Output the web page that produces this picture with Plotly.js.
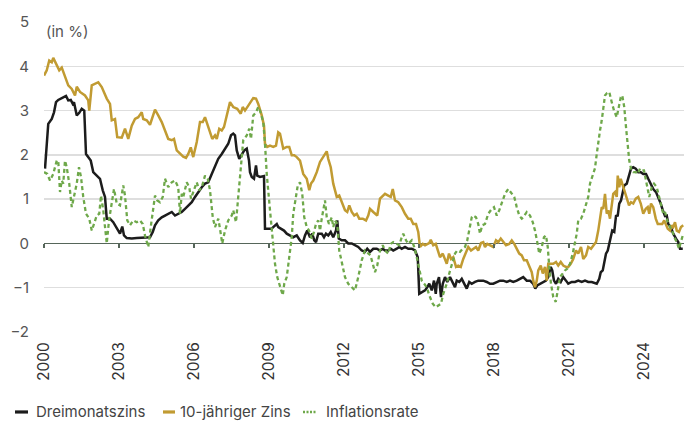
<!DOCTYPE html>
<html>
<head>
<meta charset="utf-8">
<script src="https://cdn.plot.ly/plotly-3.0.1.min.js"></script>
<style>
  html, body { margin: 0; padding: 0; background: #ffffff; }
  #chart { width: 692px; height: 423px; }
</style>
</head>
<body>
<div id="chart"></div>
<script>
// ---- Data (decimal years, values in %) ----
const dreiX = [2000.04,2000.17,2000.31,2000.40,2000.48,2000.57,2000.77,2000.88,2000.97,2001.07,2001.15,2001.20,2001.31,2001.41,2001.51,2001.61,2001.68,2001.77,2001.87,2001.97,2002.11,2002.24,2002.35,2002.44,2002.51,2002.64,2002.77,2002.91,2003.04,2003.13,2003.20,2003.31,2003.51,2003.71,2003.91,2004.11,2004.24,2004.35,2004.44,2004.57,2004.71,2004.84,2004.97,2005.11,2005.24,2005.37,2005.51,2005.64,2005.77,2005.91,2006.04,2006.17,2006.31,2006.44,2006.57,2006.71,2006.84,2006.97,2007.11,2007.24,2007.37,2007.48,2007.57,2007.64,2007.71,2007.81,2007.91,2008.01,2008.11,2008.20,2008.24,2008.31,2008.40,2008.48,2008.53,2008.64,2008.80,2008.84,2008.97,2009.11,2009.17,2009.31,2009.37,2009.51,2009.60,2009.71,2009.84,2009.97,2010.11,2010.24,2010.35,2010.44,2010.53,2010.64,2010.73,2010.81,2010.88,2010.97,2011.11,2011.20,2011.28,2011.37,2011.47,2011.57,2011.68,2011.73,2011.79,2011.91,2012.04,2012.17,2012.31,2012.44,2012.57,2012.71,2012.84,2012.93,2013.04,2013.17,2013.31,2013.44,2013.55,2013.64,2013.77,2013.87,2013.97,2014.11,2014.21,2014.31,2014.44,2014.57,2014.71,2014.84,2014.95,2015.01,2015.11,2015.24,2015.33,2015.41,2015.51,2015.60,2015.67,2015.71,2015.80,2015.88,2015.95,2016.04,2016.13,2016.24,2016.31,2016.44,2016.51,2016.61,2016.71,2016.81,2016.91,2017.01,2017.11,2017.24,2017.37,2017.51,2017.57,2017.71,2017.84,2017.97,2018.11,2018.24,2018.37,2018.51,2018.64,2018.77,2018.91,2019.04,2019.17,2019.31,2019.44,2019.57,2019.65,2019.73,2019.84,2019.97,2020.08,2020.17,2020.27,2020.33,2020.40,2020.48,2020.57,2020.67,2020.77,2020.88,2020.97,2021.11,2021.24,2021.37,2021.51,2021.64,2021.77,2021.91,2022.00,2022.11,2022.21,2022.27,2022.35,2022.41,2022.48,2022.55,2022.61,2022.68,2022.73,2022.81,2022.88,2022.95,2023.01,2023.08,2023.15,2023.21,2023.31,2023.40,2023.48,2023.57,2023.67,2023.77,2023.87,2023.97,2024.08,2024.17,2024.28,2024.37,2024.48,2024.57,2024.67,2024.75,2024.84,2024.91,2024.97,2025.07,2025.17,2025.28,2025.37,2025.44,2025.55];
const dreiY = [1.69,2.70,2.81,2.96,3.19,3.24,3.30,3.33,3.23,3.24,3.15,3.19,2.89,2.95,3.04,3.00,2.02,1.95,1.87,1.61,1.54,1.46,1.20,1.05,0.56,0.56,0.48,0.33,0.22,0.38,0.18,0.12,0.11,0.12,0.13,0.14,0.14,0.26,0.41,0.52,0.59,0.63,0.67,0.71,0.63,0.67,0.71,0.78,0.86,0.93,1.05,1.16,1.27,1.35,1.38,1.57,1.76,1.91,2.02,2.14,2.25,2.44,2.48,2.44,2.10,1.91,2.02,2.10,2.14,1.87,1.61,1.50,1.46,1.76,1.53,1.50,1.52,0.33,0.33,0.33,0.37,0.44,0.37,0.33,0.29,0.22,0.18,0.14,0.18,0.07,0.01,0.18,0.29,0.14,0.22,0.07,0.03,0.22,0.22,0.14,0.22,0.18,0.26,0.14,0.29,0.52,0.11,0.07,0.07,0.00,0.00,-0.04,-0.08,-0.16,-0.19,-0.12,-0.19,-0.12,-0.12,-0.16,-0.12,-0.16,-0.16,-0.12,-0.16,-0.12,-0.08,-0.12,-0.08,-0.12,-0.12,-0.16,-0.31,-1.14,-1.10,-1.06,-0.99,-0.91,-1.06,-0.84,-1.14,-0.91,-0.76,-1.21,-0.91,-0.76,-0.87,-0.76,-0.84,-0.99,-0.84,-0.87,-0.80,-0.91,-1.02,-0.87,-0.91,-0.87,-0.84,-0.84,-0.84,-0.87,-0.91,-0.91,-0.87,-0.84,-0.84,-0.87,-0.84,-0.87,-0.84,-0.80,-0.76,-0.84,-0.84,-0.91,-1.02,-0.95,-0.91,-0.87,-0.84,-0.76,-0.53,-0.61,-0.84,-0.91,-0.80,-0.87,-0.76,-0.84,-0.91,-0.87,-0.87,-0.84,-0.87,-0.84,-0.87,-0.87,-0.89,-0.91,-0.80,-0.65,-0.61,-0.46,-0.23,-0.16,-0.01,0.14,0.29,0.26,0.62,0.63,0.90,0.97,1.12,1.31,1.35,1.53,1.69,1.72,1.69,1.61,1.61,1.57,1.57,1.46,1.35,1.23,1.16,1.05,0.90,0.75,0.62,0.63,0.44,0.37,0.22,0.11,0.03,-0.12,-0.12];

const zehnX = [2000.00,2000.11,2000.21,2000.31,2000.37,2000.51,2000.61,2000.71,2000.84,2000.97,2001.11,2001.24,2001.31,2001.44,2001.64,2001.77,2001.81,2001.91,2002.17,2002.31,2002.51,2002.64,2002.71,2002.84,2002.93,2003.11,2003.24,2003.37,2003.51,2003.64,2003.77,2003.91,2003.97,2004.11,2004.24,2004.44,2004.57,2004.71,2004.84,2004.97,2005.11,2005.20,2005.31,2005.44,2005.57,2005.68,2005.77,2005.87,2005.97,2006.11,2006.24,2006.35,2006.44,2006.53,2006.64,2006.73,2006.84,2006.91,2007.01,2007.11,2007.20,2007.31,2007.44,2007.57,2007.73,2007.87,2007.95,2008.04,2008.13,2008.24,2008.37,2008.48,2008.57,2008.71,2008.80,2008.84,2008.93,2009.04,2009.17,2009.28,2009.37,2009.44,2009.51,2009.57,2009.71,2009.81,2009.91,2010.01,2010.11,2010.24,2010.37,2010.51,2010.61,2010.68,2010.77,2010.91,2011.04,2011.17,2011.31,2011.37,2011.47,2011.57,2011.71,2011.81,2011.91,2012.04,2012.13,2012.21,2012.31,2012.41,2012.51,2012.61,2012.75,2012.88,2012.97,2013.04,2013.17,2013.24,2013.33,2013.44,2013.55,2013.64,2013.77,2013.87,2013.95,2014.04,2014.17,2014.31,2014.44,2014.57,2014.67,2014.77,2014.88,2014.97,2015.04,2015.15,2015.24,2015.33,2015.41,2015.47,2015.57,2015.67,2015.75,2015.84,2015.95,2016.04,2016.11,2016.20,2016.28,2016.37,2016.48,2016.57,2016.67,2016.77,2016.88,2016.97,2017.08,2017.17,2017.28,2017.37,2017.48,2017.57,2017.64,2017.73,2017.84,2017.97,2018.08,2018.17,2018.27,2018.37,2018.48,2018.61,2018.71,2018.81,2018.91,2019.01,2019.11,2019.20,2019.31,2019.41,2019.51,2019.57,2019.64,2019.71,2019.77,2019.87,2019.95,2020.04,2020.11,2020.17,2020.27,2020.37,2020.48,2020.57,2020.67,2020.77,2020.88,2020.97,2021.07,2021.17,2021.28,2021.37,2021.48,2021.57,2021.68,2021.77,2021.88,2021.97,2022.08,2022.17,2022.24,2022.31,2022.37,2022.44,2022.51,2022.57,2022.64,2022.71,2022.77,2022.84,2022.91,2022.95,2023.01,2023.07,2023.13,2023.21,2023.31,2023.40,2023.48,2023.57,2023.67,2023.77,2023.87,2023.97,2024.07,2024.15,2024.21,2024.28,2024.37,2024.47,2024.55,2024.64,2024.73,2024.81,2024.88,2024.95,2025.04,2025.11,2025.17,2025.24,2025.31,2025.40,2025.48,2025.57];
const zehnY = [3.79,3.91,4.13,4.09,4.19,4.02,3.91,3.97,3.76,3.57,3.49,3.34,3.54,3.42,3.34,3.23,3.00,3.57,3.64,3.53,3.27,3.15,2.78,2.81,2.40,2.39,2.59,2.36,2.66,2.81,2.85,2.96,2.81,2.78,2.68,3.02,2.89,2.74,2.55,2.36,2.33,2.36,2.10,2.02,1.96,1.93,2.02,2.17,1.95,2.29,2.74,2.74,2.85,2.70,2.51,2.36,2.44,2.36,2.59,2.55,2.63,2.89,3.19,3.08,3.04,2.93,3.08,3.00,3.08,3.15,3.28,3.27,3.15,2.89,2.66,2.25,2.18,2.21,2.18,2.21,2.51,2.48,2.33,2.14,2.18,2.18,1.99,1.99,1.95,1.87,1.57,1.46,1.20,1.35,1.42,1.61,1.84,1.95,2.08,1.91,1.72,1.35,1.05,1.08,0.93,0.75,0.71,0.86,0.71,0.63,0.67,0.56,0.56,0.52,0.63,0.78,0.71,0.67,0.63,1.01,1.08,1.12,1.08,1.05,1.23,0.97,0.93,0.82,0.67,0.56,0.56,0.44,0.44,0.26,-0.08,-0.01,-0.04,-0.01,0.01,0.08,-0.04,-0.01,-0.16,-0.31,-0.23,-0.38,-0.46,-0.23,-0.35,-0.31,-0.53,-0.50,-0.53,-0.35,-0.19,-0.08,-0.16,-0.12,-0.08,-0.16,0.01,0.03,-0.08,-0.01,-0.04,-0.08,0.07,0.03,0.11,0.03,-0.04,-0.01,0.07,-0.01,-0.12,-0.23,-0.27,-0.38,-0.38,-0.53,-0.65,-0.84,-0.99,-0.84,-0.61,-0.50,-0.68,-0.53,-0.84,-0.46,-0.46,-0.46,-0.42,-0.50,-0.42,-0.50,-0.53,-0.53,-0.46,-0.35,-0.16,-0.23,-0.08,-0.35,-0.27,-0.08,-0.12,-0.04,0.03,0.29,0.62,0.82,0.78,1.12,0.67,0.75,0.56,0.93,1.12,1.16,1.05,1.53,1.27,1.46,1.35,1.23,1.01,0.86,0.93,0.90,1.01,1.05,0.90,0.67,0.78,0.82,0.67,0.90,0.82,0.56,0.44,0.44,0.44,0.52,0.41,0.33,0.29,0.41,0.37,0.48,0.29,0.26,0.37,0.41];

const inflX = [2000.00,2000.13,2000.24,2000.37,2000.51,2000.57,2000.64,2000.71,2000.77,2000.84,2000.91,2001.01,2001.11,2001.20,2001.31,2001.40,2001.48,2001.57,2001.68,2001.81,2001.91,2002.00,2002.11,2002.21,2002.28,2002.37,2002.44,2002.51,2002.60,2002.71,2002.80,2002.91,2003.04,2003.17,2003.24,2003.33,2003.44,2003.57,2003.71,2003.84,2003.95,2004.04,2004.17,2004.27,2004.37,2004.44,2004.53,2004.64,2004.75,2004.84,2004.97,2005.11,2005.24,2005.37,2005.44,2005.51,2005.57,2005.71,2005.81,2005.88,2005.97,2006.11,2006.21,2006.31,2006.44,2006.55,2006.64,2006.75,2006.84,2006.97,2007.04,2007.13,2007.24,2007.37,2007.51,2007.57,2007.68,2007.77,2007.87,2007.97,2008.11,2008.21,2008.28,2008.37,2008.48,2008.57,2008.64,2008.77,2008.84,2008.91,2009.04,2009.15,2009.24,2009.33,2009.44,2009.55,2009.61,2009.71,2009.81,2009.91,2009.97,2010.07,2010.15,2010.24,2010.33,2010.41,2010.51,2010.60,2010.71,2010.80,2010.88,2010.97,2011.04,2011.11,2011.17,2011.24,2011.31,2011.40,2011.51,2011.57,2011.64,2011.73,2011.81,2011.91,2012.04,2012.17,2012.31,2012.44,2012.57,2012.71,2012.84,2012.97,2013.06,2013.15,2013.24,2013.33,2013.44,2013.55,2013.64,2013.77,2013.87,2013.97,2014.11,2014.21,2014.31,2014.37,2014.48,2014.57,2014.71,2014.81,2014.91,2015.01,2015.11,2015.21,2015.31,2015.41,2015.55,2015.67,2015.77,2015.88,2015.97,2016.11,2016.21,2016.31,2016.44,2016.53,2016.64,2016.75,2016.84,2016.93,2017.01,2017.11,2017.17,2017.28,2017.37,2017.44,2017.53,2017.64,2017.77,2017.91,2018.00,2018.11,2018.21,2018.31,2018.44,2018.57,2018.71,2018.81,2018.91,2019.01,2019.11,2019.17,2019.31,2019.44,2019.55,2019.64,2019.73,2019.81,2019.91,2020.00,2020.08,2020.15,2020.21,2020.28,2020.37,2020.47,2020.55,2020.64,2020.75,2020.84,2020.93,2021.04,2021.15,2021.24,2021.31,2021.37,2021.48,2021.57,2021.68,2021.77,2021.84,2021.95,2022.04,2022.11,2022.17,2022.24,2022.31,2022.37,2022.44,2022.51,2022.61,2022.71,2022.80,2022.91,2023.00,2023.07,2023.13,2023.21,2023.28,2023.35,2023.41,2023.48,2023.57,2023.67,2023.75,2023.84,2023.93,2024.00,2024.07,2024.15,2024.21,2024.31,2024.40,2024.51,2024.60,2024.68,2024.77,2024.84,2024.93,2025.04,2025.13,2025.21,2025.31,2025.40,2025.48,2025.57];
const inflY = [1.61,1.57,1.42,1.57,1.87,1.87,1.16,1.42,1.35,1.87,1.72,1.35,0.82,1.05,1.35,1.72,1.50,1.05,0.67,0.56,0.29,0.44,0.63,0.67,1.08,0.75,0.33,0.00,0.52,0.93,1.23,0.90,0.86,1.31,1.08,0.52,0.41,0.52,0.48,0.52,0.44,0.18,-0.08,0.37,0.82,1.08,0.97,0.93,1.05,1.46,1.27,1.38,1.42,1.27,0.67,1.12,1.05,1.38,1.27,1.01,1.16,1.38,1.20,1.27,1.53,1.46,1.20,0.59,0.37,0.56,0.33,0.00,0.29,0.52,0.63,0.75,0.48,1.05,1.72,2.33,2.44,2.59,2.36,2.89,2.96,3.08,3.00,2.74,2.25,1.57,0.75,0.14,-0.46,-0.76,-0.95,-1.17,-0.91,-0.76,-0.31,0.14,0.67,1.05,1.31,1.38,1.12,0.59,0.37,0.29,0.11,0.26,0.44,0.52,0.29,0.56,0.75,0.97,0.59,0.44,0.59,0.37,0.52,0.44,-0.16,-0.46,-0.76,-0.91,-0.99,-1.06,-0.76,-0.38,-0.16,-0.23,-0.27,-0.46,-0.65,-0.50,-0.16,-0.04,-0.16,-0.23,-0.01,0.03,-0.01,-0.04,0.14,0.22,0.07,-0.01,0.07,-0.08,-0.31,-0.61,-0.84,-0.91,-0.99,-1.17,-1.36,-1.44,-1.40,-1.36,-1.14,-0.91,-0.68,-0.46,-0.23,-0.16,-0.19,-0.12,-0.08,0.07,0.29,0.59,0.63,0.59,0.44,0.22,0.41,0.44,0.67,0.78,0.82,0.63,0.75,0.90,1.12,1.23,1.12,1.05,0.82,0.63,0.56,0.59,0.71,0.63,0.48,0.29,0.03,-0.23,-0.08,0.14,0.18,-0.08,-0.53,-0.91,-1.21,-1.32,-1.06,-0.76,-0.68,-0.61,-0.57,-0.46,-0.23,-0.01,0.22,0.52,0.56,0.67,0.90,1.05,1.35,1.57,1.70,2.02,2.33,2.55,2.78,3.04,3.34,3.39,3.42,3.19,3.00,2.85,3.08,3.30,3.34,3.08,2.63,2.25,1.87,1.69,1.61,1.61,1.57,1.69,1.65,1.65,1.46,1.27,1.05,1.27,1.35,1.27,1.05,0.82,0.67,0.71,0.52,0.37,0.29,0.14,0.03,-0.12,0.07,0.22];

const seriesNames = ["Dreimonatszins", "10-jähriger Zins", "Inflationsrate"];
const tickYears = [2000, 2003, 2006, 2009, 2012, 2015, 2018, 2021, 2024];
const tickLabels = ["2000", "2003", "2006", "2009", "2012", "2015", "2018", "2021", "2024"];
const yTicks = [-2, -1, 0, 1, 2, 3, 4, 5];

const FONT = "Inter, 'Open Sans', sans-serif";
const colors = ["#1c1c1c", "#c19b32", "#6ea84a"];

const traces = [
  { x: dreiX, y: dreiY, name: seriesNames[0], type: "scatter", mode: "lines",
    line: { color: colors[0], width: 2.5 } },
  { x: zehnX, y: zehnY, name: seriesNames[1], type: "scatter", mode: "lines",
    line: { color: colors[1], width: 2.5 } },
  { x: inflX, y: inflY, name: seriesNames[2], type: "scatter", mode: "lines",
    line: { color: colors[2], width: 2.3, dash: "4px,3px" } },
  // carrier for the tick marks drawn on the zero line
  { x: [], y: [], xaxis: "x2", yaxis: "y", showlegend: false, hoverinfo: "skip",
    type: "scatter", mode: "lines" }
];

// custom legend (short line keys) below the plot, in paper coordinates
const legendLineX = [[-0.0453, -0.025], [0.1859, 0.2047], [0.4047, 0.425]];
const legendTextX = [-0.0156, 0.2094, 0.4375];
const legendY = -0.258;
const legendShapes = seriesNames.map((n, i) => ({
  type: "line", xref: "paper", yref: "paper",
  x0: legendLineX[i][0], x1: legendLineX[i][1], y0: legendY, y1: legendY,
  line: { color: colors[i], width: i === 2 ? 2.5 : 3.2, dash: i === 2 ? "2px,1.5px" : "solid" }
}));
const legendTexts = seriesNames.map((n, i) => ({
  xref: "paper", yref: "paper", x: legendTextX[i], y: legendY,
  xanchor: "left", yanchor: "middle", showarrow: false, text: n,
  font: { family: FONT, size: 15, color: "#444444" }
}));

const layout = {
  width: 692, height: 423,
  margin: { l: 44, r: 8, t: 22, b: 91 },
  paper_bgcolor: "#ffffff", plot_bgcolor: "#ffffff",
  font: { family: FONT, size: 15, color: "#555555" },
  showlegend: false,
  xaxis: {
    type: "linear", range: [2000, 2025.6],
    tickmode: "array", tickvals: tickYears, ticktext: tickLabels,
    tickangle: -90, ticks: "", showgrid: false, zeroline: false, showline: false,
    tickfont: { family: FONT, size: 15.5, color: "#333333" },
    ticklabelstandoff: 6, fixedrange: true
  },
  xaxis2: {
    type: "linear", range: [2000, 2025.6], overlaying: "x", anchor: "free",
    position: 2 / 7, side: "bottom",
    tickmode: "array", tickvals: tickYears, ticks: "outside", ticklen: 4,
    tickwidth: 1.2, tickcolor: "#56665a", showticklabels: false,
    showgrid: false, zeroline: false, showline: false
  },
  yaxis: {
    range: [-2, 5], tickmode: "array", tickvals: yTicks,
    showgrid: true, gridcolor: "#dedede", gridwidth: 1.5,
    zeroline: true, zerolinecolor: "#56665a", zerolinewidth: 1.5,
    ticks: "", showline: false, ticklabelstandoff: 14,
    tickfont: { family: FONT, size: 15, color: "#555555" }, fixedrange: true
  },
  shapes: legendShapes,
  annotations: [{
    xref: "paper", yref: "paper", x: 0.0, y: 0.968, xanchor: "left", yanchor: "middle",
    text: "(in %)", showarrow: false, font: { family: FONT, size: 15, color: "#555555" }
  }].concat(legendTexts)
};

Plotly.newPlot("chart", traces, layout, { staticPlot: true, displayModeBar: false });
</script>
</body>
</html>
